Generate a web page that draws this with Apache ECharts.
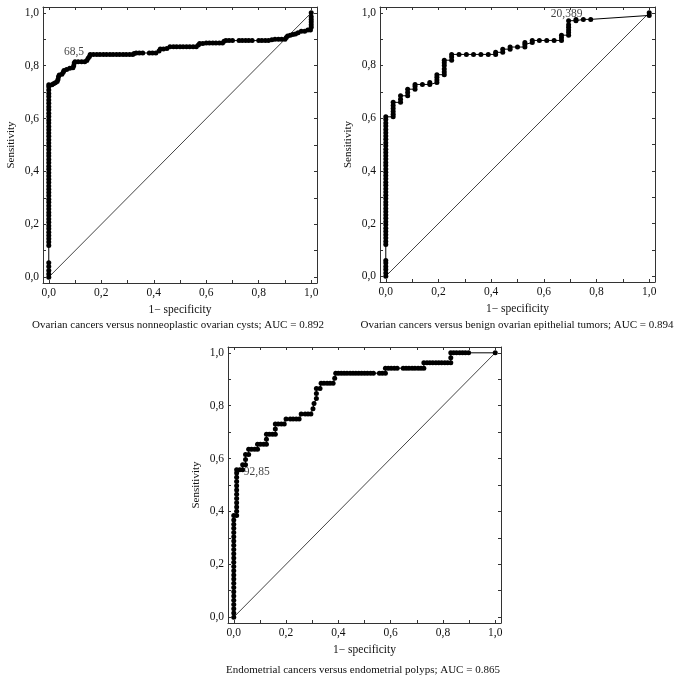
<!DOCTYPE html>
<html><head><meta charset="utf-8">
<script src="https://cdn.jsdelivr.net/npm/echarts@6/dist/echarts.min.js"></script>
<style>html,body{margin:0;padding:0;background:#fff}#c{width:680px;height:681px}</style>
</head><body><div id="c"></div>
<script>
// ROC curve 1: Ovarian cancers vs nonneoplastic ovarian cysts
const roc1 = [
[0,0],[0,0.012],[0,0.025],[0,0.04],[0,0.055],
[0,0.12],[0,0.133],[0,0.145],[0,0.158],[0,0.17],[0,0.183],[0,0.195],[0,0.208],[0,0.22],[0,0.233],[0,0.245],[0,0.258],[0,0.27],[0,0.283],[0,0.295],[0,0.308],[0,0.32],[0,0.333],[0,0.345],[0,0.358],[0,0.37],[0,0.383],[0,0.395],[0,0.408],[0,0.42],[0,0.433],[0,0.445],[0,0.458],[0,0.47],[0,0.483],[0,0.495],[0,0.508],[0,0.52],[0,0.533],[0,0.545],[0,0.558],[0,0.57],[0,0.583],[0,0.595],[0,0.608],[0,0.62],[0,0.633],[0,0.645],[0,0.658],[0,0.67],[0,0.683],[0,0.695],[0,0.708],[0,0.72],[0,0.728],
[0.012,0.728],[0.018,0.732],[0.025,0.735],[0.032,0.74],[0.035,0.748],[0.037,0.758],[0.04,0.765],[0.05,0.768],[0.055,0.775],[0.058,0.782],[0.068,0.786],[0.08,0.79],[0.092,0.792],[0.095,0.8],[0.097,0.81],[0.1,0.815],[0.112,0.815],[0.125,0.815],[0.137,0.815],[0.145,0.82],[0.15,0.828],[0.155,0.835],[0.158,0.842],
[0.17,0.842],[0.183,0.842],[0.195,0.842],[0.208,0.842],[0.22,0.842],[0.233,0.842],[0.245,0.842],[0.258,0.842],[0.27,0.842],[0.283,0.842],[0.295,0.842],[0.308,0.842],[0.32,0.842],
[0.325,0.846],[0.333,0.848],[0.345,0.848],[0.358,0.848],[0.383,0.848],[0.395,0.848],[0.408,0.848],
[0.42,0.856],[0.425,0.863],[0.437,0.863],[0.45,0.865],[0.462,0.872],[0.475,0.872],[0.487,0.872],[0.5,0.872],[0.512,0.872],[0.525,0.872],[0.537,0.872],[0.55,0.872],[0.562,0.872],[0.57,0.878],[0.575,0.884],[0.587,0.884],[0.6,0.886],[0.612,0.886],[0.625,0.886],[0.637,0.886],[0.65,0.886],[0.662,0.886],
[0.668,0.892],[0.675,0.895],[0.687,0.895],[0.7,0.895],[0.725,0.895],[0.737,0.895],[0.75,0.895],[0.762,0.895],[0.775,0.895],[0.8,0.895],[0.812,0.895],[0.825,0.895],[0.837,0.895],[0.85,0.898],[0.862,0.9],[0.875,0.9],[0.887,0.9],[0.9,0.9],
[0.905,0.907],[0.91,0.912],[0.92,0.915],[0.93,0.918],[0.94,0.92],[0.95,0.925],[0.962,0.93],[0.975,0.93],[0.987,0.935],[0.997,0.935],
[1,0.945],[1,0.955],[1,0.965],[1,0.975],[1,0.985],[1,1]
];
// ROC curve 2: Ovarian cancers vs benign ovarian epithelial tumors
const roc2 = [
[0,0],[0,0.012],[0,0.025],[0,0.037],[0,0.05],[0,0.06],
[0,0.12],[0,0.132],[0,0.145],[0,0.157],[0,0.17],[0,0.182],[0,0.195],[0,0.207],[0,0.22],[0,0.232],[0,0.245],[0,0.257],[0,0.27],[0,0.282],[0,0.295],[0,0.307],[0,0.32],[0,0.332],[0,0.345],[0,0.357],[0,0.37],[0,0.382],[0,0.395],[0,0.407],[0,0.42],[0,0.432],[0,0.445],[0,0.457],[0,0.47],[0,0.482],[0,0.495],[0,0.507],[0,0.52],[0,0.532],[0,0.545],[0,0.557],[0,0.57],[0,0.582],[0,0.595],[0,0.605],
[0.028,0.605],[0.028,0.615],[0.028,0.625],[0.028,0.637],[0.028,0.648],[0.028,0.66],
[0.056,0.66],[0.056,0.672],[0.056,0.685],
[0.083,0.685],[0.083,0.697],[0.083,0.71],
[0.111,0.71],[0.111,0.72],[0.111,0.728],
[0.139,0.728],[0.167,0.728],[0.167,0.735],
[0.194,0.735],[0.194,0.745],[0.194,0.755],[0.194,0.765],
[0.222,0.765],[0.222,0.775],[0.222,0.787],[0.222,0.8],[0.222,0.81],[0.222,0.82],
[0.25,0.82],[0.25,0.832],[0.25,0.842],
[0.278,0.842],[0.306,0.842],[0.333,0.842],[0.361,0.842],[0.389,0.842],[0.417,0.842],[0.417,0.85],
[0.444,0.85],[0.444,0.862],[0.472,0.862],[0.472,0.87],[0.5,0.87],[0.528,0.87],[0.528,0.88],[0.528,0.887],
[0.556,0.887],[0.556,0.895],[0.583,0.895],[0.611,0.895],[0.639,0.895],[0.667,0.895],[0.667,0.905],[0.667,0.915],
[0.694,0.915],[0.694,0.925],[0.694,0.935],[0.694,0.945],[0.694,0.955],[0.694,0.97],
[0.722,0.97],[0.722,0.975],[0.75,0.975],[0.778,0.975],
[1,0.99],[1,1]
];
// ROC curve 3: Endometrial cancers vs endometrial polyps
const roc3 = [
[0,0],[0,0.016],[0,0.032],[0,0.048],[0,0.064],[0,0.08],[0,0.096],[0,0.112],[0,0.128],[0,0.144],[0,0.16],[0,0.176],[0,0.192],[0,0.208],[0,0.224],[0,0.24],[0,0.256],[0,0.272],[0,0.288],[0,0.304],[0,0.32],[0,0.336],[0,0.352],[0,0.368],[0,0.385],
[0.011,0.385],[0.011,0.401],[0.011,0.417],[0.011,0.433],[0.011,0.449],[0.011,0.465],[0.011,0.481],[0.011,0.497],[0.011,0.513],[0.011,0.529],[0.011,0.545],[0.011,0.558],
[0.023,0.558],[0.034,0.558],[0.034,0.577],[0.045,0.577],
[0.045,0.596],[0.045,0.615],[0.057,0.615],
[0.057,0.635],[0.068,0.635],[0.08,0.635],[0.091,0.635],
[0.091,0.654],[0.102,0.654],[0.114,0.654],[0.125,0.654],
[0.125,0.673],[0.125,0.692],[0.136,0.692],[0.148,0.692],[0.159,0.692],
[0.159,0.712],[0.159,0.731],[0.17,0.731],[0.182,0.731],[0.193,0.731],
[0.2,0.75],[0.216,0.75],[0.227,0.75],[0.239,0.75],[0.25,0.75],
[0.258,0.769],[0.273,0.769],[0.284,0.769],[0.295,0.769],
[0.303,0.788],[0.307,0.808],[0.316,0.827],[0.316,0.846],[0.316,0.865],[0.33,0.865],
[0.334,0.885],[0.345,0.885],[0.357,0.885],[0.368,0.885],[0.38,0.885],
[0.386,0.904],[0.39,0.923],[0.4,0.923],[0.411,0.923],[0.422,0.923],[0.433,0.923],[0.445,0.923],[0.456,0.923],[0.467,0.923],[0.478,0.923],[0.489,0.923],[0.5,0.923],[0.511,0.923],[0.523,0.923],[0.534,0.923],[0.557,0.923],[0.568,0.923],[0.58,0.923],
[0.58,0.942],[0.591,0.942],[0.602,0.942],[0.614,0.942],[0.625,0.942],[0.648,0.942],[0.659,0.942],[0.67,0.942],[0.682,0.942],[0.693,0.942],[0.705,0.942],[0.716,0.942],[0.727,0.942],
[0.727,0.962],[0.739,0.962],[0.75,0.962],[0.761,0.962],[0.773,0.962],[0.784,0.962],[0.795,0.962],[0.807,0.962],[0.818,0.962],[0.83,0.962],
[0.83,0.981],[0.83,1],[0.841,1],[0.852,1],[0.864,1],[0.875,1],[0.886,1],[0.898,1],
[1,1]
];
const diagonal = [[0,0],[1,1]];
// labelled cut-off points
const cutPoints = [[0.1,0.815],[0.694,0.97],[0.023,0.558]];
const cutLabels = ['68,5','20,389','92,85'];
const captions = [
  'Ovarian cancers versus nonneoplastic ovarian cysts; AUC = 0.892',
  'Ovarian cancers versus benign ovarian epithelial tumors; AUC = 0.894',
  'Endometrial cancers versus endometrial polyps; AUC = 0.865'
];
const xAxisName = '1\u2212 specificity';
const yAxisName = 'Sensitivity';
const tickValues = [0,0.1,0.2,0.3,0.4,0.5,0.6,0.7,0.8,0.9,1];
const labelValues = [0,0.2,0.4,0.6,0.8,1];

const FONT = '"Liberation Serif", "DejaVu Serif", serif';
const curves = [roc1, roc2, roc3];
const grids = [
  {left:43, top:7, width:274, height:276},
  {left:380, top:7, width:275, height:275},
  {left:228, top:347, width:273, height:276}
];
const labelPos = [
  {position:'top', distance:4, offset:[-1,0]},
  {position:'top', distance:1, offset:[-2,0]},
  {position:'right', distance:4, offset:[0,2]}
];
const captionPos = [[178,325],[517,325],[363,670]];
const AMIN = -0.022, AMAX = 1.022;
const lineCol = '#333';
const fmt = v => v.toFixed(1).replace('.', ',');

const xAxis = [], yAxis = [], series = [], graphic = [];
grids.forEach((g, i) => {
  const base = {type:'value', gridIndex:i, min:AMIN, max:AMAX,
    splitLine:{show:false},
    axisLine:{show:true, onZero:false, lineStyle:{color:lineCol, width:1}},
    axisTick:{show:true, inside:true, length:3, customValues:tickValues, lineStyle:{color:lineCol}}};
  xAxis.push(Object.assign({}, base, {position:'bottom', name:xAxisName, nameLocation:'middle', nameGap:21,
    nameTextStyle:{fontFamily:FONT, fontSize:11.5, color:'#111'},
    axisLabel:{show:true, customValues:labelValues, formatter:fmt, fontFamily:FONT, fontSize:11.5, color:'#111', margin:4}}));
  xAxis.push(Object.assign({}, base, {position:'top', axisLabel:{show:false}}));
  yAxis.push(Object.assign({}, base, {position:'left', name:yAxisName, nameLocation:'middle', nameGap:26, nameRotate:90,
    nameTextStyle:{fontFamily:FONT, fontSize:11, color:'#111'},
    axisLabel:{show:true, customValues:labelValues, formatter:fmt, fontFamily:FONT, fontSize:11.5, color:'#111', margin:4}}));
  yAxis.push(Object.assign({}, base, {position:'right', axisLabel:{show:false}}));
  series.push({type:'line', xAxisIndex:2*i, yAxisIndex:2*i, data:diagonal, showSymbol:false, silent:true,
    lineStyle:{color:'#444', width:1}, z:2});
  series.push({type:'line', xAxisIndex:2*i, yAxisIndex:2*i, data:curves[i], symbol:'circle', symbolSize:5,
    showAllSymbol:true, itemStyle:{color:'#000'}, lineStyle:{color:'#000', width:1}, z:3});
  series.push({type:'scatter', xAxisIndex:2*i, yAxisIndex:2*i, data:[cutPoints[i]], symbolSize:0, z:4,
    label:Object.assign({show:true, formatter:cutLabels[i], fontFamily:FONT, fontSize:11.5, color:'#111'}, labelPos[i])});
  graphic.push({type:'text', x:captionPos[i][0], y:captionPos[i][1],
    style:{text:captions[i], fill:'#111', font:'11px ' + FONT, align:'center', verticalAlign:'middle'}});
});

const chart = echarts.init(document.getElementById('c'), null, {renderer:'canvas'});
chart.setOption({animation:false, backgroundColor:'#fff', grid:grids, xAxis, yAxis, series, graphic});
</script></body></html>
